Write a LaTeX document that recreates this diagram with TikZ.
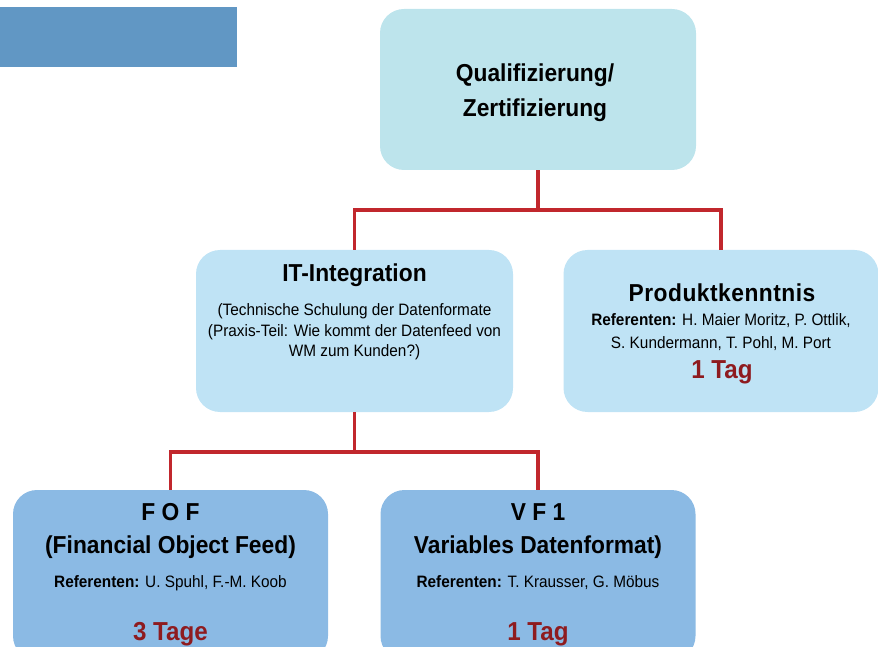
\documentclass[tikz,border=0pt]{standalone}
\usepackage{fontspec}
\setmainfont{Liberation Sans}[FakeStretch=0.93]
\definecolor{hdrblue}{HTML}{6197C4}
\definecolor{topfill}{HTML}{BDE4EC}
\definecolor{midfill}{HTML}{BFE3F5}
\definecolor{lowfill}{HTML}{8BBAE4}
\definecolor{linered}{HTML}{C1272D}
\definecolor{txtred}{HTML}{8E1B1F}
\tikzset{
  box/.style={rounded corners=24pt, draw=none, inner sep=0pt, minimum width=#1},
  conn/.style={draw=linered, line width=3.5pt},
  big/.style={font=\fontsize{24.5}{28}\selectfont\bfseries, anchor=base, inner sep=0pt},
  small/.style={font=\fontsize{16.5}{19}\selectfont, anchor=base, inner sep=0pt},
  days/.style={font=\fontsize{26}{30}\selectfont\bfseries, text=txtred, anchor=base, inner sep=0pt},
}
\begin{document}
\begin{tikzpicture}[x=1pt,y=1pt]
\useasboundingbox (0,0) rectangle (878,646);
\clip (0,0) rectangle (878,646);
% header bar
\node[fill=hdrblue, minimum width=237pt, minimum height=60pt, inner sep=0pt, anchor=north west] (hdr) at (0,639) {};
% boxes
\node[box=316pt, fill=topfill, minimum height=161pt] (top) at (538,556.5) {};
\node[box=317pt, fill=midfill, minimum height=162pt] (it) at (354.5,315) {};
\node[box=315pt, fill=midfill, minimum height=162pt] (prod) at (721,315) {};
\node[box=315pt, fill=lowfill, minimum height=170pt] (fof) at (170.5,71) {};
\node[box=315pt, fill=lowfill, minimum height=170pt] (vf) at (538,71) {};
% junctions
\coordinate (j1) at (538,436);
\coordinate (j2) at (354.5,194);
% connectors
\draw[conn] (top.south) -- (j1);
\draw[conn] (it.north) |- (j1) -| (prod.north);
\draw[conn] (it.south) -- (j2);
\draw[conn] (fof.north) |- (j2) -| (vf.north);
% texts top
\node[big] (t1) at (535,564) {Qualifizierung/};
\node[big] (t2) at (535,529) {Zertifizierung};
% IT
\node[big] (i1) at (354.5,364) {IT-Integration};
\node[small] (i2) at (354.5,330) {(Technische Schulung der Datenformate};
\node[small] (i3) at (354.5,309) {(Praxis-Teil: Wie kommt der Datenfeed von};
\node[small] (i4) at (354.5,289) {WM zum Kunden?)};
% Produkt
\node[big, font=\fontsize{24.5}{28}\selectfont\bfseries\addfontfeature{LetterSpace=2}] (p1) at (722,344) {Produktkenntnis};
\node[small] (p2) at (721,320) {\textbf{Referenten:} H. Maier Moritz, P. Ottlik,};
\node[small] (p3) at (721,298) {S. Kundermann, T. Pohl, M. Port};
\node[days] (p4) at (722,268) {1 Tag};
% FOF
\node[big] (f1) at (170.5,126) {F O F};
\node[big] (f2) at (170.5,93) {(Financial Object Feed)};
\node[small] (f3) at (170.5,59) {\textbf{Referenten:} U. Spuhl, F.-M. Koob};
\node[days] (f4) at (170.5,6) {3 Tage};
% VF1
\node[big] (v1) at (538,126) {V F 1};
\node[big] (v2) at (538,93) {Variables Datenformat)};
\node[small] (v3) at (538,59) {\textbf{Referenten:} T. Krausser, G. Möbus};
\node[days] (v4) at (538,6) {1 Tag};
\end{tikzpicture}
\end{document}
